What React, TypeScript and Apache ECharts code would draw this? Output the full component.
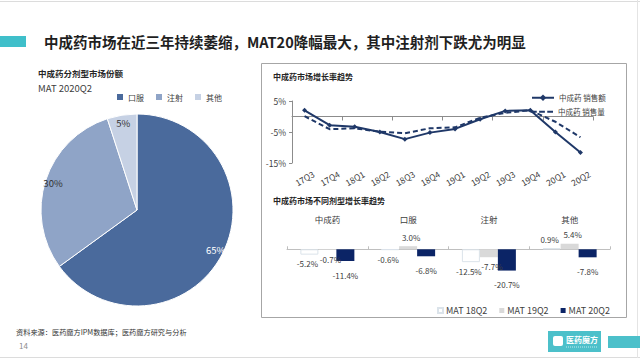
import React, { useEffect, useRef } from "react";
import * as echarts from "echarts";

const FONT = '"Noto Sans CJK SC", "Noto Sans", sans-serif';

// Pie: share by dosage form, MAT 2020Q2
const pieNames = ["口服", "注射", "其他"];
const pieValues = [65, 30, 5];
const pieColors = ["#4a6a9c", "#8fa4c7", "#c6d1e4"];
const pieLabelColors = ["#ffffff", "#333333", "#333333"];

// Line: growth trend
const quarters = ["17Q3", "17Q4", "18Q1", "18Q2", "18Q3", "18Q4", "19Q1", "19Q2", "19Q3", "19Q4", "20Q1", "20Q2"];
const salesAmount = [2.0, -2.8, -3.3, -5.0, -7.3, -5.2, -4.0, -0.9, 1.8, 2.0, -5.0, -11.6];
const salesVolume = [0.1, -4.1, -3.8, -4.9, -5.4, -3.8, -3.5, -0.4, 1.2, 2.0, -1.7, -6.7];

// Bar: growth by dosage form
const barCats = ["中成药", "口服", "注射", "其他"];
const mat18 = [-5.2, -0.6, -12.5, 0.9];
const mat19 = [-0.7, 3.0, -7.7, 5.4];
const mat20 = [-11.4, -6.8, -20.7, -7.8];

const TXT = "#404040";
const PIE_CX = 137;
const PIE_CY = 210;
const PIE_R = 96;

function barData(arr: number[]) {
  return arr.map((v) => ({ value: v, label: { position: v < 0 ? "bottom" : "top" } }));
}

function pieLabelGraphics() {
  const total = pieValues.reduce((a, b) => a + b, 0);
  let acc = 0;
  return pieValues.map((v, i) => {
    const mid = ((acc + v / 2) / total) * Math.PI * 2;
    acc += v;
    const rr = PIE_R * 0.92;
    return {
      type: "text",
      x: PIE_CX + rr * Math.sin(mid),
      y: PIE_CY - rr * Math.cos(mid),
      style: {
        text: v + "%", font: `9.5px ${FONT}`, fill: pieLabelColors[i],
        align: "center", verticalAlign: "middle",
      },
      z: 10,
    };
  });
}

export default function App() {
  const ref = useRef<HTMLDivElement>(null);
  useEffect(() => {
    document.body.style.margin = "0";
    const chart = echarts.init(ref.current!, undefined, { renderer: "svg" });
    const barLabel = (dist: number, dx: number) => ({
      show: true, formatter: (p: any) => p.value.toFixed(1) + "%", fontSize: 8, color: TXT, fontFamily: FONT,
      distance: dist, offset: [dx, 0],
    });
    const option: any = {
      animation: false,
      backgroundColor: "#ffffff",
      textStyle: { fontFamily: FONT },
      graphic: [
        { type: "line", shape: { x1: 0, y1: 1.5, x2: 640, y2: 1.5 }, style: { stroke: "#dcdcdc", lineWidth: 1 } },
        { type: "line", shape: { x1: 0, y1: 357.5, x2: 640, y2: 357.5 }, style: { stroke: "#dcdcdc", lineWidth: 1 } },
        { type: "line", shape: { x1: 637.5, y1: 0, x2: 637.5, y2: 358 }, style: { stroke: "#e4e4e4", lineWidth: 1 } },
        { type: "rect", shape: { x: 0, y: 36, width: 26, height: 11 }, style: { fill: "#3fbfca" } },
        {
          type: "text", x: 44, y: 41,
          style: { text: "中成药市场在近三年持续萎缩，MAT20降幅最大，其中注射剂下跌尤为明显", font: `bold 14.5px ${FONT}`, fill: "#1f1f1f", verticalAlign: "middle" },
        },
        { type: "text", x: 38, y: 73, style: { text: "中成药分剂型市场份额", font: `bold 8.5px ${FONT}`, fill: "#262626", verticalAlign: "middle" } },
        { type: "text", x: 38, y: 88, style: { text: "MAT 2020Q2", font: `9.5px ${FONT}`, fill: TXT, verticalAlign: "middle" } },
        ...pieLabelGraphics(),
        { type: "rect", shape: { x: 261.5, y: 63.5, width: 365, height: 254 }, style: { fill: "none", stroke: "#a6a6a6", lineWidth: 1 } },
        { type: "text", x: 273, y: 76, style: { text: "中成药市场增长率趋势", font: `bold 8px ${FONT}`, fill: "#262626", verticalAlign: "middle" } },
        { type: "text", x: 273, y: 200, style: { text: "中成药市场不同剂型增长率趋势", font: `bold 8px ${FONT}`, fill: "#262626", verticalAlign: "middle" } },
        { type: "text", x: 16, y: 332, style: { text: "资料来源：医药魔方IPM数据库；医药魔方研究与分析", font: `7.2px ${FONT}`, fill: "#333", verticalAlign: "middle" } },
        { type: "text", x: 19, y: 345, style: { text: "14", font: `8px ${FONT}`, fill: "#8c8c8c", verticalAlign: "middle" } },
        { type: "rect", shape: { x: 548, y: 331, width: 53, height: 21 }, style: { fill: "#4cc0ca" } },
        { type: "rect", shape: { x: 553, y: 336, width: 10, height: 10, r: 2 }, style: { fill: "#ffffff" } },
        { type: "text", x: 566, y: 339, style: { text: "医药魔方", font: `bold 8px ${FONT}`, fill: "#ffffff", verticalAlign: "middle" } },
        { type: "line", shape: { x1: 566, y1: 347, x2: 597, y2: 347 }, style: { stroke: "#bfeaee", lineWidth: 1, lineDash: [1, 1] } },
        { type: "rect", shape: { x: 608, y: 336, width: 32, height: 12 }, style: { fill: "#4cc0ca" } },
      ],
      legend: [
        {
          data: pieNames, left: 110, top: 87, itemWidth: 8, itemHeight: 8, itemGap: 10,
          icon: "rect", textStyle: { fontSize: 8, color: TXT, fontFamily: FONT, padding: [0, 0, 0, -1] },
        },
        {
          data: ["中成药 销售额"], left: 526, top: 89,
          itemWidth: 22, itemHeight: 8, textStyle: { fontSize: 7.5, color: TXT, fontFamily: FONT },
        },
        {
          data: ["中成药 销售量"], left: 526, top: 103,
          icon: "path://M0,0h6v2H0z M8.5,0h6v2H8.5z M17,0h6v2H17z",
          itemWidth: 22, itemHeight: 2, textStyle: { fontSize: 7.5, color: TXT, fontFamily: FONT },
        },
        {
          data: ["MAT 18Q2", "MAT 19Q2", "MAT 20Q2"], left: 432, top: 301, itemWidth: 5, itemHeight: 5,
          itemGap: 12, icon: "rect", textStyle: { fontSize: 9, color: TXT, fontFamily: FONT, padding: [0, 0, 0, -2] },
        },
      ],
      grid: [
        { left: 292, right: 47, top: 101, bottom: 198 },
        { left: 287, right: 30, top: 239, bottom: 86 },
      ],
      xAxis: [
        {
          gridIndex: 0, type: "category", data: quarters, boundaryGap: true,
          axisLine: { onZero: true, lineStyle: { color: "#8c8c8c", width: 1 } },
          axisTick: { show: true, length: 4, lineStyle: { color: "#8c8c8c" } },
          axisLabel: { show: false },
        },
        {
          gridIndex: 0, type: "category", data: quarters, position: "bottom", boundaryGap: true,
          axisLine: { show: false, onZero: false }, axisTick: { show: false },
          axisLabel: { show: true, rotate: 30, align: "center", verticalAlign: "middle", margin: 15, fontSize: 8.5, color: TXT, fontFamily: FONT },
        },
        {
          gridIndex: 1, type: "category", data: barCats,
          axisLine: { onZero: true, lineStyle: { color: "#bfbfbf" } },
          axisTick: { show: true, length: 3, inside: true, lineStyle: { color: "#bfbfbf" } },
          axisLabel: { show: false },
        },
        {
          gridIndex: 1, type: "category", data: barCats, position: "top",
          axisLine: { show: false, onZero: false }, axisTick: { show: false },
          axisLabel: { show: true, margin: 16, fontSize: 8.5, color: TXT, fontFamily: FONT },
        },
      ],
      yAxis: [
        {
          gridIndex: 0, type: "value", min: -15, max: 5, interval: 10,
          splitLine: { show: false },
          axisLine: { show: true, lineStyle: { color: "#8c8c8c" } },
          axisTick: { show: true, length: 3, lineStyle: { color: "#8c8c8c" } },
          axisLabel: { formatter: "{value}%", fontSize: 8.5, color: TXT, fontFamily: FONT, margin: 6 },
        },
        {
          gridIndex: 1, type: "value", min: -25, max: 10, show: false, splitLine: { show: false },
        },
      ],
      series: [
        {
          type: "pie", name: "share", center: [PIE_CX, PIE_CY], radius: [0, PIE_R], startAngle: 90, clockwise: true,
          data: pieNames.map((n, i) => ({ name: n, value: pieValues[i], itemStyle: { color: pieColors[i] } })),
          itemStyle: { borderColor: "#ffffff", borderWidth: 1 },
          label: { show: false }, labelLine: { show: false }, emphasis: { disabled: true },
        },
        {
          type: "line", name: "中成药 销售额", xAxisIndex: 0, yAxisIndex: 0, data: salesAmount,
          lineStyle: { color: "#1f3868", width: 2 }, itemStyle: { color: "#1f3868" },
          symbol: "diamond", symbolSize: 5, showSymbol: true,
        },
        {
          type: "line", name: "中成药 销售量", xAxisIndex: 0, yAxisIndex: 0, data: salesVolume,
          lineStyle: { color: "#1f3868", width: 2, type: [5, 3] }, itemStyle: { color: "#1f3868" },
          symbol: "none",
        },
        {
          type: "bar", name: "MAT 18Q2", xAxisIndex: 2, yAxisIndex: 1, data: barData(mat18),
          barWidth: 18, barGap: "0%",
          itemStyle: { color: "#ffffff", borderColor: "#dbe3ea", borderWidth: 1 },
          label: barLabel(5, -2),
        },
        {
          type: "bar", name: "MAT 19Q2", xAxisIndex: 2, yAxisIndex: 1, data: barData(mat19),
          barWidth: 18, barGap: "0%",
          itemStyle: { color: "#d9d9d9" },
          label: barLabel(5, 3),
        },
        {
          type: "bar", name: "MAT 20Q2", xAxisIndex: 2, yAxisIndex: 1, data: barData(mat20),
          barWidth: 18, barGap: "0%",
          itemStyle: { color: "#0b2466" },
          label: barLabel(10, 0),
        },
      ],
    };
    chart.setOption(option);
    return () => chart.dispose();
  }, []);
  return <div ref={ref} style={{ position: "fixed", left: 0, top: 0, width: 640, height: 361 }} />;
}
